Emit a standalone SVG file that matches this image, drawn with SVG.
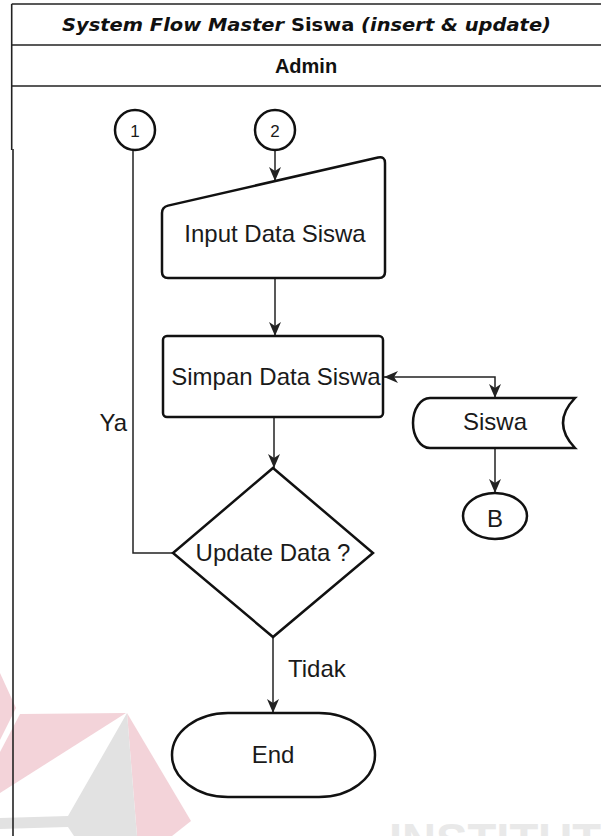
<svg xmlns="http://www.w3.org/2000/svg" width="601" height="836" viewBox="0 0 601 836">
<style>
  .shape { fill: #ffffff; stroke: #111111; stroke-width: 2.5; }
  .frame { fill: none; stroke: #222222; stroke-width: 1.6; }
  .conn { fill: none; stroke: #222222; stroke-width: 1.5; }
  .lbl { font-family: "Liberation Sans", Arial, sans-serif; font-size: 24px; fill: #1a1a1a; }
  .small { font-family: "Liberation Sans", Arial, sans-serif; font-size: 17px; fill: #1a1a1a; }
  .wm-pink { fill: #f3d3d9; }
  .wm-gray { fill: #e2e2e2; }
</style>
<defs>
  <marker id="arr" viewBox="0 0 14 12" refX="14" refY="6" markerWidth="14" markerHeight="12" markerUnits="userSpaceOnUse" orient="auto-start-reverse">
    <path d="M0,0 L14,6 L0,12 L4,6 Z" fill="#222222"/>
  </marker>
</defs>
<rect width="601" height="836" fill="#ffffff"/>

<g id="watermark">
  <polygon class="wm-pink" points="0,673 16,708 0,740"/>
  <polygon class="wm-pink" points="20,714 126,713 0,793 0,752"/>
  <polygon class="wm-pink" points="127,713 191,821 172,836 137,836"/>
  <polygon class="wm-gray" points="127,713 137,836 74,836 68,827 0,829 0,818 68,816"/>
  <text x="389" y="856" font-family="Liberation Sans, Arial, sans-serif" font-weight="bold" font-size="46" fill="#e9e9e9" textLength="212" lengthAdjust="spacingAndGlyphs">INSTITUT</text>
</g>

<g id="frame">
  <line class="frame" x1="11.7" y1="4" x2="601" y2="4"/>
  <line class="frame" x1="11.7" y1="45" x2="601" y2="45"/>
  <line class="frame" x1="11.7" y1="86" x2="601" y2="86"/>
  <line class="frame" x1="11.7" y1="4" x2="11.7" y2="150"/>
  <line class="frame" x1="13" y1="149" x2="13" y2="836"/>
  <text x="62" y="31" font-family="DejaVu Sans, Verdana, sans-serif" font-weight="bold" font-style="italic" font-size="17" fill="#111111" textLength="489" lengthAdjust="spacingAndGlyphs">System Flow Master <tspan font-style="normal">Siswa</tspan> (insert &amp; update)</text>
  <text x="306" y="73" text-anchor="middle" font-family="Liberation Sans, Arial, sans-serif" font-weight="bold" font-size="20" fill="#111111">Admin</text>
</g>

<g id="connectors">
  <line class="conn" x1="275" y1="150" x2="275" y2="181" marker-end="url(#arr)"/>
  <line class="conn" x1="275" y1="278" x2="275" y2="336" marker-end="url(#arr)"/>
  <line class="conn" x1="274" y1="417" x2="274" y2="468" marker-end="url(#arr)"/>
  <line class="conn" x1="273" y1="637" x2="273" y2="713" marker-end="url(#arr)"/>
  <path class="conn" d="M384,377 H495 V398" marker-start="url(#arr)" marker-end="url(#arr)"/>
  <line class="conn" x1="495" y1="448" x2="495" y2="493" marker-end="url(#arr)"/>
  <polyline class="conn" points="173,553 133,553 133,150"/>
  <text class="lbl" x="127" y="431" text-anchor="end">Ya</text>
  <text class="lbl" x="288" y="677">Tidak</text>
</g>

<g id="connector-1">
  <circle class="shape" cx="135" cy="130" r="20" stroke-width="1.6"/>
  <text class="small" x="135" y="137" text-anchor="middle">1</text>
</g>

<g id="connector-2">
  <circle class="shape" cx="275" cy="130" r="20" stroke-width="1.6"/>
  <text class="small" x="275" y="137" text-anchor="middle">2</text>
</g>

<g id="input-data-siswa">
  <path class="shape" d="M162,213 Q162,207 168,205.6 L378,157.5 Q385,156 385,163 L385,272 Q385,278 379,278 L168,278 Q162,278 162,272 Z"/>
  <text class="lbl" x="275" y="242" text-anchor="middle">Input Data Siswa</text>
</g>

<g id="simpan-data-siswa">
  <rect class="shape" x="163" y="336" width="220" height="81" rx="4"/>
  <text class="lbl" x="276" y="385" text-anchor="middle">Simpan Data Siswa</text>
</g>

<g id="siswa-store">
  <path class="shape" d="M430,398 L575,398 Q551,423 575,448 L430,448 A17,25 0 0 1 430,398 Z"/>
  <text class="lbl" x="495" y="430" text-anchor="middle">Siswa</text>
</g>

<g id="connector-b">
  <ellipse class="shape" cx="495" cy="516" rx="32" ry="23" stroke-width="2"/>
  <text class="lbl" x="495" y="527" text-anchor="middle" font-size="22">B</text>
</g>

<g id="update-data">
  <polygon class="shape" points="273,468 373,553 273,637 173,553"/>
  <text class="lbl" x="273" y="561" text-anchor="middle">Update Data ?</text>
</g>

<g id="end">
  <rect class="shape" x="172" y="713" width="203" height="84" rx="56" ry="42"/>
  <text class="lbl" x="273" y="763" text-anchor="middle">End</text>
</g>
</svg>
